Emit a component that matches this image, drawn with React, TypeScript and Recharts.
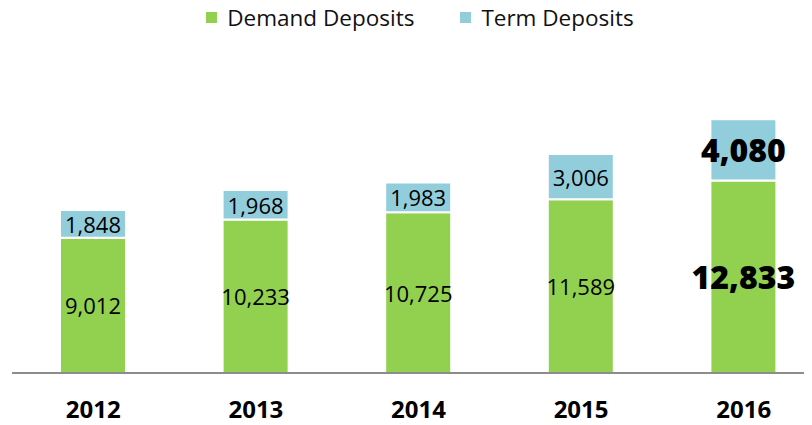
import { Bar, BarChart, Legend, XAxis, YAxis, LabelList } from "recharts"

const years = ["2012", "2013", "2014", "2015", "2016"]
const demand = [9012, 10233, 10725, 11589, 12833]
const term = [1848, 1968, 1983, 3006, 4080]

const data = years.map((year, i) => ({
  year,
  demand: demand[i],
  term: term[i],
}))

const FONT = "'Open Sans', sans-serif"

const renderValue = (props: any) => {
  const { x, y, width, height, value, index } = props
  const big = index === years.length - 1
  return (
    <text
      x={x + width / 2}
      y={y + height / 2}
      textAnchor="middle"
      dominantBaseline="central"
      fontFamily={FONT}
      fontSize={big ? 32 : 22}
      fontWeight={big ? 800 : 400}
      fill="#000"
    >
      {Number(value).toLocaleString("en-US")}
    </text>
  )
}

const renderLegend = () => (
  <div
    style={{
      display: "flex",
      justifyContent: "center",
      alignItems: "center",
      gap: 46,
      height: 31,
      lineHeight: "31px",
      fontFamily: FONT,
      fontSize: 22.5,
      color: "#111",
      marginLeft: 20,
    }}
  >
    {[
      { name: "Demand Deposits", color: "#92D050" },
      { name: "Term Deposits", color: "#92CDDC" },
    ].map((item) => (
      <div key={item.name} style={{ display: "flex", alignItems: "center" }}>
        <span style={{ width: 11, height: 11, background: item.color, marginRight: 10, display: "inline-block" }} />
        <span>{item.name}</span>
      </div>
    ))}
  </div>
)

export default function App() {
  return (
    <div style={{ marginTop: -8, width: 804, height: 425, overflow: "hidden", background: "#fff" }}>
      <BarChart
        width={817}
        height={425}
        data={data}
        margin={{ top: 72, right: 0, bottom: 22, left: 4 }}
      >
        <Legend verticalAlign="top" content={renderLegend} wrapperStyle={{ top: 2, left: 0, width: 804, height: 31 }} />
        <XAxis
          dataKey="year"
          tickLine={false}
          axisLine={{ stroke: "#8c8c8c", strokeWidth: 2 }}
          tickMargin={22}
          tick={{ fontFamily: FONT, fontSize: 24, fontWeight: 700, fill: "#000" }}
        />
        <YAxis hide domain={[0, 18000]} />
        <Bar dataKey="demand" stackId="a" fill="#92D050" stroke="#fff" strokeWidth={2} barSize={66} isAnimationActive={false}>
          <LabelList dataKey="demand" content={renderValue} />
        </Bar>
        <Bar dataKey="term" stackId="a" fill="#92CDDC" stroke="#fff" strokeWidth={2} barSize={66} isAnimationActive={false}>
          <LabelList dataKey="term" content={renderValue} />
        </Bar>
      </BarChart>
    </div>
  )
}
